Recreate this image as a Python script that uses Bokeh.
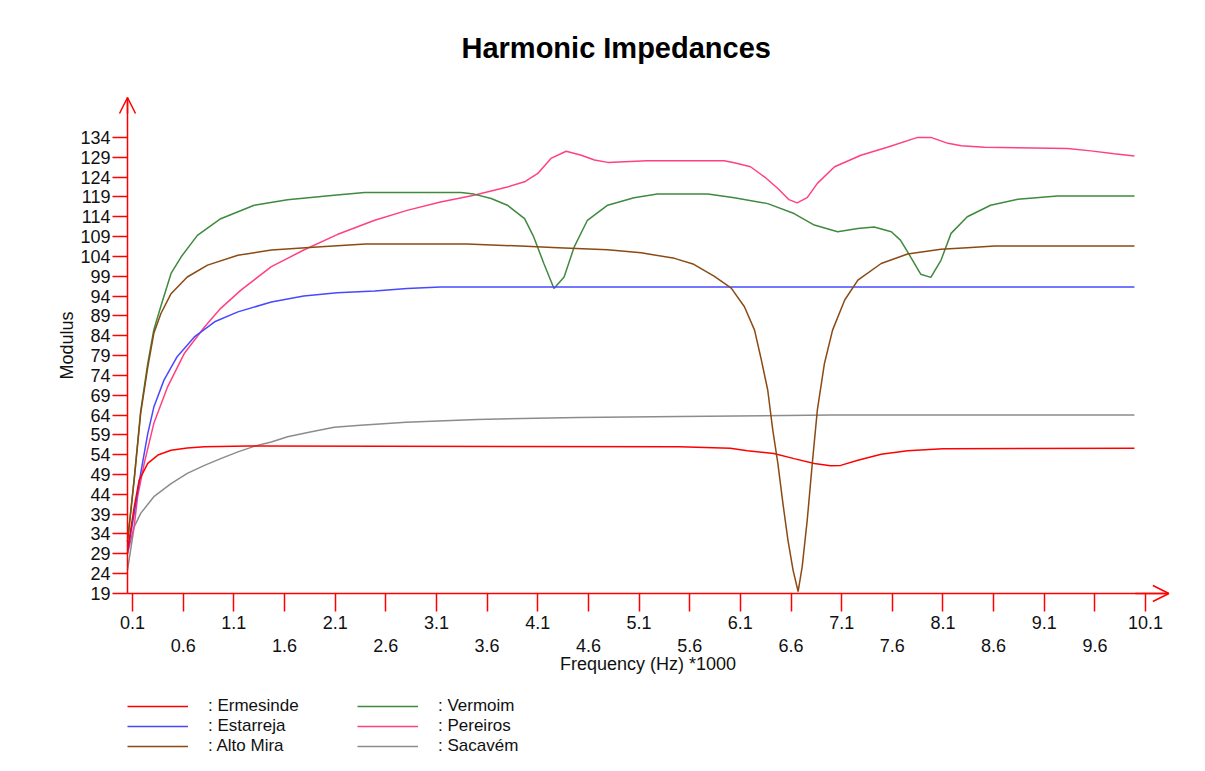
from bokeh.plotting import figure
from bokeh.models import (Range1d, LinearAxis, FixedTicker, Arrow, OpenHead,
                          Legend, LegendItem)
from bokeh.embed import file_html
from bokeh.resources import INLINE

# ---------------- data (frequency in kHz, modulus) ----------------
y_ticks = [19, 24, 29, 34, 39, 44, 49, 54, 59, 64, 69, 74, 79, 84, 89, 94,
           99, 104, 109, 114, 119, 124, 129, 134]
x_ticks_upper = [0.1, 1.1, 2.1, 3.1, 4.1, 5.1, 6.1, 7.1, 8.1, 9.1, 10.1]
x_ticks_lower = [0.6, 1.6, 2.6, 3.6, 4.6, 5.6, 6.6, 7.6, 8.6, 9.6]

ermesinde_f = [0.05, 0.116, 0.165, 0.25, 0.35, 0.48, 0.64, 0.81, 1.24, 5.5, 6.0,
               6.17, 6.43, 6.63, 6.83, 6.99, 7.09, 7.26, 7.49, 7.75, 8.1, 9.99]
ermesinde_v = [29.9, 40.8, 47.6, 51.8, 53.9, 55.1, 55.7, 56.0, 56.2, 56.0, 55.6,
               55.0, 54.3, 53.0, 51.8, 51.2, 51.3, 52.6, 54.1, 55.0, 55.5, 55.6]

estarreja_f = [0.05, 0.116, 0.18, 0.25, 0.31, 0.41, 0.54, 0.71, 0.91, 1.14, 1.47,
               1.79, 2.12, 2.49, 2.81, 3.14, 9.99]
estarreja_v = [29.2, 39.2, 49.3, 59.3, 66.0, 72.8, 78.7, 83.7, 87.5, 90.0, 92.5,
               94.0, 94.8, 95.3, 95.9, 96.3, 96.3]

altomira_f = [0.05, 0.116, 0.18, 0.25, 0.31, 0.38, 0.48, 0.64, 0.84, 1.14, 1.47,
              1.96, 2.40, 3.40, 3.93, 4.30, 4.79, 5.12, 5.45, 5.64, 5.84, 6.01,
              6.14, 6.24, 6.30, 6.37, 6.42, 6.47, 6.52, 6.57, 6.62, 6.67, 6.71,
              6.76, 6.81, 6.86, 6.93, 7.01, 7.13, 7.26, 7.49, 7.75, 8.08, 8.34,
              8.61, 9.99]
altomira_v = [32.0, 47.6, 64.4, 76.1, 84.6, 89.6, 94.6, 98.8, 101.8, 104.3, 105.6,
              106.4, 107.1, 107.1, 106.6, 106.2, 105.7, 104.9, 103.5, 102.0, 99.0,
              96.0, 91.3, 85.4, 78.7, 70.3, 60.2, 51.8, 41.7, 32.4, 24.9, 19.5,
              25.7, 37.5, 51.8, 65.3, 77.0, 85.4, 93.0, 98.0, 102.2, 104.6, 105.8,
              106.2, 106.6, 106.6]

vermoim_f = [0.05, 0.116, 0.18, 0.25, 0.31, 0.38, 0.48, 0.58, 0.74, 0.97, 1.30,
             1.63, 2.09, 2.39, 3.34, 3.47, 3.64, 3.80, 3.97, 4.06, 4.16, 4.26,
             4.36, 4.46, 4.59, 4.79, 5.05, 5.28, 5.78, 6.04, 6.37, 6.63, 6.83,
             7.06, 7.26, 7.42, 7.59, 7.68, 7.78, 7.88, 7.98, 8.08, 8.18, 8.34,
             8.57, 8.84, 9.23, 9.99]
vermoim_v = [32.0, 48.0, 65.0, 77.0, 85.5, 91.5, 99.7, 103.9, 109.3, 113.5, 116.9,
             118.3, 119.4, 120.1, 120.1, 119.7, 118.6, 116.9, 113.5, 108.9, 102.2,
             95.9, 98.8, 106.4, 113.1, 116.9, 118.8, 119.7, 119.7, 118.8, 117.3,
             114.8, 111.9, 110.2, 111.0, 111.4, 110.2, 108.1, 103.9, 99.5, 98.7,
             103.0, 109.8, 114.0, 116.9, 118.4, 119.2, 119.2]

pereiros_f = [0.05, 0.116, 0.15, 0.215, 0.31, 0.446, 0.61, 0.81, 0.97, 1.17, 1.47,
              1.79, 2.12, 2.49, 2.81, 3.14, 3.47, 3.80, 3.97, 4.10, 4.23, 4.38,
              4.53, 4.66, 4.79, 5.18, 5.94, 6.04, 6.20, 6.34, 6.47, 6.58, 6.66,
              6.76, 6.86, 7.03, 7.29, 7.55, 7.85, 7.98, 8.15, 8.28, 8.51, 9.33,
              9.56, 9.79, 9.99]
pereiros_v = [29.0, 36.0, 43.4, 51.8, 61.9, 71.1, 79.5, 86.2, 90.9, 95.5, 101.4,
              105.6, 109.5, 113.1, 115.6, 117.7, 119.4, 121.5, 122.8, 124.9, 128.7,
              130.5, 129.5, 128.3, 127.7, 128.1, 128.1, 127.6, 126.6, 124.0, 121.1,
              118.3, 117.5, 118.8, 122.4, 126.6, 129.5, 131.5, 134.0, 134.0, 132.5,
              131.9, 131.5, 131.2, 130.6, 129.9, 129.3]

sacavem_f = [0.05, 0.116, 0.18, 0.31, 0.48, 0.64, 0.81, 0.97, 1.14, 1.30, 1.47,
             1.63, 1.83, 2.09, 2.35, 2.8, 3.5, 4.5, 5.5, 7.0, 9.99]
sacavem_v = [24.9, 35.8, 39.2, 43.4, 46.7, 49.3, 51.3, 53.0, 54.7, 56.1, 57.2,
             58.5, 59.6, 60.9, 61.4, 62.2, 62.9, 63.4, 63.6, 64.0, 64.0]

names = [": Ermesinde", ": Estarreja", ": Alto Mira", ": Vermoim", ": Pereiros", ": Sacavém"]
colors = ["#ff0000", "#4848ff", "#8b4a14", "#3f8a3f", "#ff4183", "#8c8c8c"]

# axis extents (data units)
X0, X1 = 0.05, 10.33      # x axis line: from the y axis to the arrow tip
Y0, Y1 = 19, 144.06       # y axis line: from the x axis to the arrow tip

# ---------------- figure ----------------
FONT = "Liberation Sans"
TXT = "#111111"
FS = "18px"
p = figure(width=1189, height=755, output_backend="svg", toolbar_location=None,
           x_range=Range1d(-0.7101, 10.425), y_range=Range1d(-21.85, 146.58),
           x_axis_type=None, y_axis_type=None,
           min_border_left=50, min_border_right=11, min_border_top=87,
           min_border_bottom=0, title="Harmonic Impedances")
p.outline_line_color = None
p.background_fill_color = "white"
p.border_fill_color = "white"
p.title.align = "left"
p.title.offset = 411
p.title.standoff = 47
p.title.text_font = FONT
p.title.text_font_size = "29px"
p.title.text_font_style = "bold"
p.title.text_color = "#000000"


def style_labels(ax):
    ax.major_label_text_font = FONT
    ax.major_label_text_font_size = FS
    ax.major_label_text_color = TXT
    ax.axis_label_text_font = FONT
    ax.axis_label_text_font_size = FS
    ax.axis_label_text_font_style = "normal"
    ax.axis_label_text_color = TXT


# y axis
yax = LinearAxis(ticker=FixedTicker(ticks=y_ticks, minor_ticks=[]),
                 fixed_location=X0, bounds=(Y0, Y1))
yax.axis_line_color = "red"
yax.axis_line_width = 1.5
yax.major_tick_line_color = "red"
yax.major_tick_line_width = 1.5
yax.major_tick_out = 15
yax.major_tick_in = 0
yax.minor_tick_line_color = None
yax.major_label_standoff = 2
yax.axis_label = "Modulus"
yax.axis_label_standoff = 0
style_labels(yax)
p.add_layout(yax, "left")

# x axis: line, all ticks and the upper row of labels
xa = LinearAxis(ticker=FixedTicker(ticks=x_ticks_upper, minor_ticks=x_ticks_lower),
                fixed_location=Y0, bounds=(X0, X1))
xa.axis_line_color = "red"
xa.axis_line_width = 1.5
xa.major_tick_line_color = "red"
xa.major_tick_line_width = 1.5
xa.minor_tick_line_color = "red"
xa.minor_tick_line_width = 1.5
xa.major_tick_out = 18
xa.major_tick_in = 0
xa.minor_tick_out = 18
xa.minor_tick_in = 0
xa.major_label_standoff = 5
style_labels(xa)
p.add_layout(xa, "below")

# x axis: lower row of labels and the axis title
xb = LinearAxis(ticker=FixedTicker(ticks=x_ticks_lower, minor_ticks=[]),
                fixed_location=Y0, bounds=(X0, X1))
xb.axis_line_color = None
xb.major_tick_line_color = None
xb.minor_tick_line_color = None
xb.major_tick_out = 0
xb.major_tick_in = 0
xb.major_label_standoff = 46
xb.axis_label = "Frequency (Hz) *1000"
xb.axis_label_standoff = -2
style_labels(xb)
p.add_layout(xb, "below")

# arrow heads
p.add_layout(Arrow(x_start=10.0, y_start=Y0, x_end=X1, y_end=Y0,
                   line_color="red", line_width=1.5,
                   end=OpenHead(size=16, line_color="red", line_width=1.5)))
p.add_layout(Arrow(x_start=X0, y_start=140, x_end=X0, y_end=Y1,
                   line_color="red", line_width=1.5,
                   end=OpenHead(size=16, line_color="red", line_width=1.5)))

series = [(ermesinde_f, ermesinde_v), (estarreja_f, estarreja_v),
          (altomira_f, altomira_v), (vermoim_f, vermoim_v),
          (pereiros_f, pereiros_v), (sacavem_f, sacavem_v)]
draw_order = [5, 4, 3, 1, 0, 2]
renderers = [None] * 6
for i in draw_order:
    f, v = series[i]
    renderers[i] = p.line(f, v, line_color=colors[i], line_width=1.5)

items = [LegendItem(label=names[i], renderers=[renderers[i]]) for i in range(6)]
legend = Legend(items=items, location=(77, -1), orientation="vertical", nrows=3,
                glyph_width=61, glyph_height=20, label_height=20, label_width=149,
                label_standoff=20, spacing=0, padding=0, margin=0,
                border_line_color=None, background_fill_alpha=0,
                label_text_font=FONT, label_text_font_size="17px",
                label_text_color=TXT)
p.add_layout(legend, "center")

open("out.html", "w").write(file_html(p, INLINE))
